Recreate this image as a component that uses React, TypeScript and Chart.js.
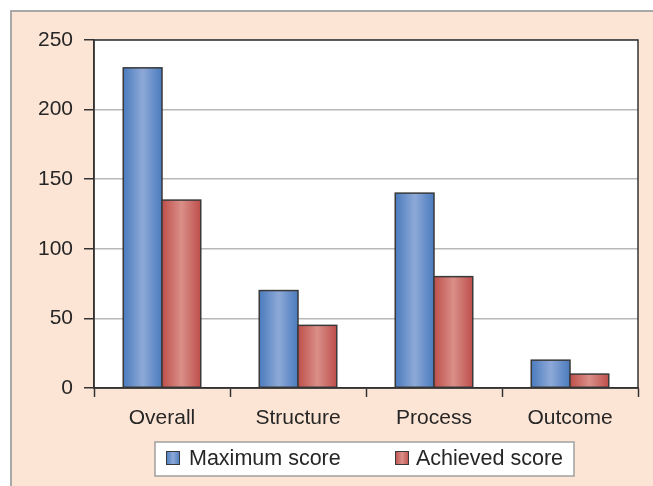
import React, { useEffect, useRef } from "react";
import { Chart, registerables } from "chart.js";

Chart.register(...registerables);

const categories = ["Overall", "Structure", "Process", "Outcome"];
const maximumScore = [230, 70, 140, 20];
const achievedScore = [135, 45, 80, 10];
const seriesNames = ["Maximum score", "Achieved score"];
const yTicks = [0, 50, 100, 150, 200, 250];

const PEACH = "#fde5d6";
const FONT = "'Liberation Sans', Arial, sans-serif";

const gradients = [
  { edge: "#4a7bbd", mid: "#8ea9d8" },
  { edge: "#be4f4b", mid: "#da8f89" },
];

const framePlugin = {
  id: "frame",
  beforeDraw(chart: any) {
    const { ctx, width, height, chartArea } = chart;
    ctx.save();
    ctx.fillStyle = "#ffffff";
    ctx.fillRect(0, 0, width, height);
    ctx.fillStyle = PEACH;
    ctx.fillRect(11, 11, width - 11, height - 11);
    ctx.strokeStyle = "#a8a8a8";
    ctx.lineWidth = 2;
    ctx.beginPath();
    ctx.moveTo(11, height);
    ctx.lineTo(11, 11);
    ctx.lineTo(width, 11);
    ctx.stroke();
    ctx.fillStyle = "#ffffff";
    ctx.fillRect(chartArea.left, chartArea.top, chartArea.right - chartArea.left, chartArea.bottom - chartArea.top);
    ctx.restore();
  },
  afterDatasetsDraw(chart: any) {
    const { ctx, chartArea } = chart;
    ctx.save();
    chart.data.datasets.forEach((_: any, di: number) => {
      const meta = chart.getDatasetMeta(di);
      const g = gradients[di];
      meta.data.forEach((bar: any) => {
        const { x, y, base, width } = bar.getProps(["x", "y", "base", "width"], true);
        const l = x - width / 2;
        const grad = ctx.createLinearGradient(l, 0, l + width, 0);
        grad.addColorStop(0, g.edge);
        grad.addColorStop(0.5, g.mid);
        grad.addColorStop(1, g.edge);
        ctx.fillStyle = grad;
        ctx.fillRect(l, y, width, base - y);
        ctx.strokeStyle = "#3a3a3a";
        ctx.lineWidth = 1.5;
        ctx.strokeRect(l, y, width, base - y);
      });
    });
    ctx.strokeStyle = "#333333";
    ctx.lineWidth = 1.5;
    ctx.strokeRect(chartArea.left, chartArea.top, chartArea.right - chartArea.left, chartArea.bottom - chartArea.top);
    ctx.restore();
  },
  afterDraw(chart: any) {
    const { ctx } = chart;
    ctx.save();
    const bx = 155, by = 442, bw = 419, bh = 34;
    ctx.fillStyle = "#ffffff";
    ctx.fillRect(bx, by, bw, bh);
    ctx.strokeStyle = "#a0a0a0";
    ctx.lineWidth = 1.5;
    ctx.strokeRect(bx, by, bw, bh);
    const items = [
      { sq: 166, tx: 189 },
      { sq: 395, tx: 416 },
    ];
    ctx.font = `21.5px ${FONT}`;
    ctx.textBaseline = "middle";
    items.forEach((it, i) => {
      const g = gradients[i];
      const grad = ctx.createLinearGradient(it.sq, 0, it.sq + 14, 0);
      grad.addColorStop(0, g.edge);
      grad.addColorStop(0.5, g.mid);
      grad.addColorStop(1, g.edge);
      ctx.fillStyle = grad;
      ctx.fillRect(it.sq, 451, 14, 14);
      ctx.strokeStyle = "#3a3a3a";
      ctx.lineWidth = 1;
      ctx.strokeRect(it.sq + 0.5, 451.5, 13, 13);
      ctx.fillStyle = "#262626";
      ctx.fillText(seriesNames[i], it.tx, 459);
    });
    ctx.restore();
  },
};

export default function App() {
  const ref = useRef<HTMLCanvasElement>(null);
  useEffect(() => {
    document.body.style.margin = "0";
    const chart = new Chart(ref.current as HTMLCanvasElement, {
      type: "bar",
      data: {
        labels: categories,
        datasets: [
          { label: seriesNames[0], data: maximumScore, backgroundColor: gradients[0].edge },
          { label: seriesNames[1], data: achievedScore, backgroundColor: gradients[1].edge },
        ],
      },
      options: {
        animation: false,
        responsive: false,
        maintainAspectRatio: false,
        layout: { padding: { top: 40, right: 15, left: 0, bottom: 0 } },
        datasets: { bar: { categoryPercentage: 0.57, barPercentage: 1 } },
        plugins: { legend: { display: false }, tooltip: { enabled: false } },
        scales: {
          x: {
            offset: true,
            grid: {
              offset: true,
              drawOnChartArea: false,
              tickLength: 9,
              tickColor: "#333333",
              tickWidth: 1.5,
            },
            border: { color: "#333333", width: 1.5 },
            ticks: { color: "#262626", font: { family: FONT, size: 21 }, padding: 9 },
            afterFit(scale: any) {
              scale.height = 98;
            },
          },
          y: {
            min: 0,
            max: 250,
            afterBuildTicks(scale: any) {
              scale.ticks = yTicks.map((v) => ({ value: v }));
            },
            grid: {
              color: "#b8b8b8",
              lineWidth: 1.5,
              tickLength: 10,
              tickColor: "#333333",
              tickWidth: 1.5,
            },
            border: { color: "#333333", width: 1.5 },
            ticks: { color: "#262626", font: { family: FONT, size: 21 }, padding: 11 },
            afterFit(scale: any) {
              scale.width = 94;
            },
          },
        },
      },
      plugins: [framePlugin],
    });
    return () => chart.destroy();
  }, []);
  return (
    <div style={{ width: 653, height: 486 }}>
      <canvas ref={ref} width={653} height={486} style={{ width: 653, height: 486, display: "block" }} />
    </div>
  );
}
